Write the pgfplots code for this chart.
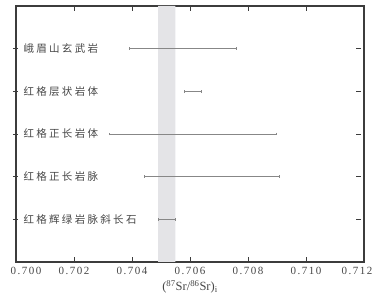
\documentclass[border=0pt]{standalone}
\usepackage{fontspec}
\setmainfont{Liberation Serif}
\newfontfamily\cjk[LetterSpace=22]{Noto Sans CJK SC}
\newfontfamily\numf[LetterSpace=14]{Liberation Serif}
\usepackage{pgfplots}
\pgfplotsset{compat=1.18}
\usetikzlibrary{arrows.meta,calc}
\definecolor{axgray}{RGB}{60,60,60}
\definecolor{txtgray}{RGB}{70,70,70}
\definecolor{bargray}{RGB}{135,135,135}
\definecolor{band}{RGB}{228,228,231}
\begin{document}
\begin{tikzpicture}
\begin{axis}[
  name=ax,
  scale only axis=true,
  width=348pt, height=256pt,
  xmin=0.700, xmax=0.712,
  ymin=0, ymax=6,
  xtick={0.700,0.702,0.704,0.706,0.708,0.710,0.712},
  xticklabels={\kern10pt 0.700\kern-10pt,0.702,0.704,0.706,0.708,0.710,\kern-7pt 0.712\kern7pt},
  ytick={1,2,3,4,5},
  yticklabels={红格辉绿岩脉斜长石,红格正长岩脉,红格正长岩体,红格层状岩体,峨眉山玄武岩},
  tick align=inside,
  major tick length=5pt,
  x tick label style={font=\numf\fontsize{11}{13}\selectfont, text=txtgray, inner sep=0pt, yshift=-5pt},
  y tick label style={font=\cjk\fontsize{10.5}{12}\selectfont, text=txtgray, anchor=west, xshift=4pt},
  y tick style={xshift=-3pt},
  tick style={axgray, line width=0.8pt},
  axis line style={axgray, line width=1.3pt},
  xlabel={(\textsuperscript{87}Sr/\textsuperscript{86}Sr)\textsubscript{i}},
  xlabel style={font=\fontsize{12.5}{14}\selectfont, text=txtgray, yshift=-2pt},
  clip=false,
]
\addplot[fill=band, draw=none] coordinates {(0.7049,0) (0.7055,0) (0.7055,6) (0.7049,6)} \closedcycle;
\addplot[bargray, line width=0.6pt, {Bar[width=2.5pt]}-{Bar[width=2.5pt]}] coordinates {(0.7039,5) (0.7076,5)};
\addplot[bargray, line width=0.6pt, {Bar[width=2.5pt]}-{Bar[width=2.5pt]}] coordinates {(0.7058,4) (0.7064,4)};
\addplot[bargray, line width=0.6pt, {Bar[width=2.5pt]}-{Bar[width=2.5pt]}] coordinates {(0.7032,3) (0.7090,3)};
\addplot[bargray, line width=0.6pt, {Bar[width=2.5pt]}-{Bar[width=2.5pt]}] coordinates {(0.7044,2) (0.7091,2)};
\addplot[bargray, line width=0.6pt, {Bar[width=2.5pt]}-{Bar[width=2.5pt]}] coordinates {(0.7049,1) (0.7055,1)};
\end{axis}
\path ($(ax.south west)+(-16pt,-43pt)$) rectangle ($(ax.north east)+(25pt,6pt)$);
\end{tikzpicture}
\end{document}
